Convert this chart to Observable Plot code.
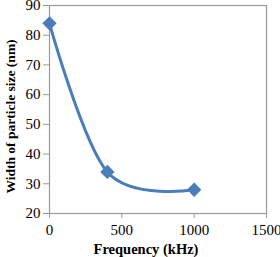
<!DOCTYPE html>
<html>
<head>
<meta charset="utf-8">
<script src="https://cdn.jsdelivr.net/npm/d3@7"></script>
<script src="https://cdn.jsdelivr.net/npm/@observablehq/plot@0.6"></script>
<style>
  html, body { margin: 0; padding: 0; background: white; }
  #chart svg { overflow: visible; }
  #chart svg text { font-family: "Times New Roman", "Liberation Serif", "DejaVu Serif", serif !important; }
</style>
</head>
<body>
<div id="chart"></div>
<script>
const frequency = [0, 400, 1000];
const widthNm = [84, 34, 28];
const xTicks = [0, 500, 1000, 1500];
const yTicks = [20, 30, 40, 50, 60, 70, 80, 90];
const xTitle = "Frequency (kHz)";
const yTitle = "Width of particle size (nm)";

const data = frequency.map((f, i) => ({f, w: widthNm[i]}));
const blue = "#4a7ebb";
const serif = "'Times New Roman', 'Liberation Serif', 'DejaVu Serif', serif";

const chart = Plot.plot({
  width: 280,
  height: 257,
  marginLeft: 49,
  marginRight: 14,
  marginTop: 5,
  marginBottom: 44,
  style: {fontFamily: serif, fontSize: "15px", color: "black", background: "white", overflow: "visible"},
  x: {domain: [0, 1500]},
  y: {domain: [20, 90]},
  marks: [
    Plot.frame({stroke: "#999", strokeWidth: 1.2}),
    Plot.axisX({ticks: xTicks, tickFormat: d3.format("d"), tickSize: 5, tickPadding: 6, stroke: "#999", fill: "black", label: null, fontSize: 15}),
    Plot.axisY({ticks: yTicks, tickFormat: d3.format("d"), tickSize: 6, tickPadding: 3, stroke: "#999", fill: "black", label: null, fontSize: 15}),
    Plot.line(data, {x: "f", y: "w", curve: "cardinal", stroke: blue, strokeWidth: 3}),
    Plot.dot(data, {x: "f", y: "w", symbol: "diamond2", r: 5.5, fill: blue, stroke: blue}),
    Plot.text([xTitle], {frameAnchor: "bottom", textAnchor: "middle", lineAnchor: "middle", dy: 36, dx: -12, fontWeight: "bold", fontSize: 14.5, fill: "black"}),
    Plot.text([yTitle], {frameAnchor: "left", textAnchor: "middle", lineAnchor: "middle", rotate: -90, dx: -39, dy: 7, fontWeight: "bold", fontSize: 13.5, fill: "black"})
  ]
});
document.getElementById("chart").appendChild(chart);
</script>
</body>
</html>
